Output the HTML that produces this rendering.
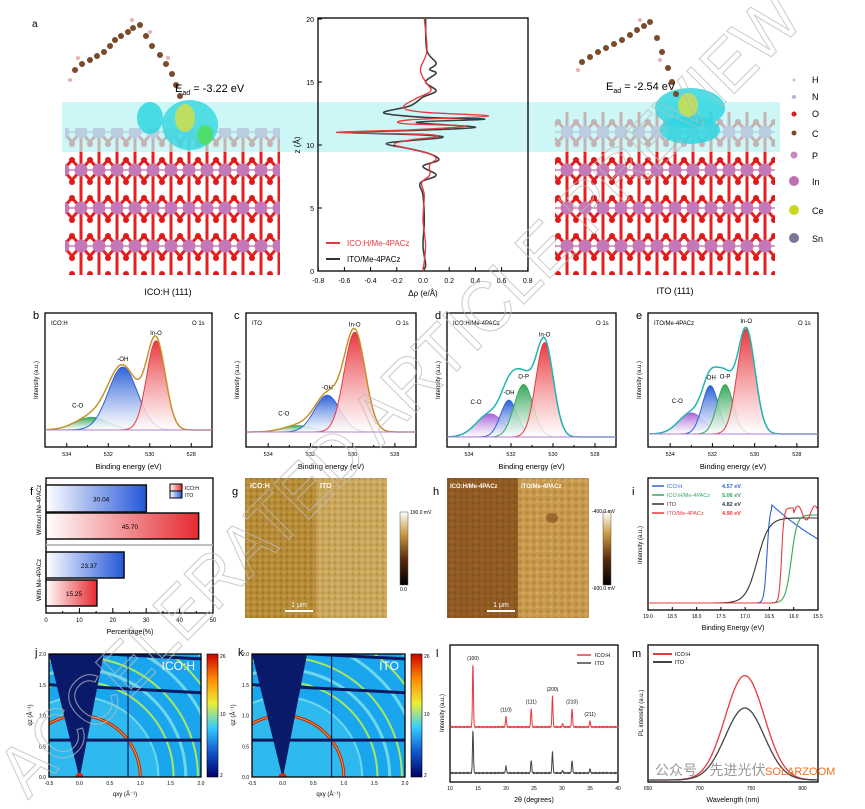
<!DOCTYPE html>
<html><head><meta charset="utf-8"><style>
html,body{margin:0;padding:0;background:#fff;width:865px;height:809px;overflow:hidden}
svg{display:block;font-family:"Liberation Sans",sans-serif;overflow:hidden}
</style></head><body>
<svg id="s" width="865" height="809" viewBox="0 0 865 809" xmlns="http://www.w3.org/2000/svg">
<defs>
<linearGradient id="gR" x1="0" y1="0" x2="0" y2="1"><stop offset="0" stop-color="#e8393f"/><stop offset="1" stop-color="#fff" stop-opacity=".8"/></linearGradient>
<linearGradient id="gB" x1="0" y1="0" x2="0" y2="1"><stop offset="0" stop-color="#2d62d8"/><stop offset="1" stop-color="#fff" stop-opacity=".8"/></linearGradient>
<linearGradient id="gG" x1="0" y1="0" x2="0" y2="1"><stop offset="0" stop-color="#36a85a"/><stop offset="1" stop-color="#fff" stop-opacity=".8"/></linearGradient>
<linearGradient id="gP" x1="0" y1="0" x2="0" y2="1"><stop offset="0" stop-color="#a865d8"/><stop offset="1" stop-color="#fff" stop-opacity=".8"/></linearGradient>
<linearGradient id="hB" x1="0" y1="0" x2="1" y2="0"><stop offset="0" stop-color="#fff"/><stop offset="1" stop-color="#2456d8"/></linearGradient>
<linearGradient id="hR" x1="0" y1="0" x2="1" y2="0"><stop offset="0" stop-color="#fff"/><stop offset="1" stop-color="#e52a30"/></linearGradient>
<linearGradient id="cbA" x1="0" y1="0" x2="0" y2="1"><stop offset="0" stop-color="#fff"/><stop offset=".3" stop-color="#c89a40"/><stop offset=".65" stop-color="#5a2a0a"/><stop offset="1" stop-color="#000"/></linearGradient>
<linearGradient id="cbJ" x1="0" y1="0" x2="0" y2="1"><stop offset="0" stop-color="#c00"/><stop offset=".2" stop-color="#f80"/><stop offset=".4" stop-color="#ee3"/><stop offset=".6" stop-color="#3cf"/><stop offset=".8" stop-color="#15c"/><stop offset="1" stop-color="#006"/></linearGradient>
<pattern id="afmG" width="6" height="6" patternUnits="userSpaceOnUse"><rect width="6" height="6" fill="#b58a35"/><circle cx="2" cy="2" r="1.5" fill="#c49a48"/><circle cx="5" cy="4.5" r="1.2" fill="#9e7428"/></pattern>
<pattern id="afmG2" width="6" height="6" patternUnits="userSpaceOnUse"><rect width="6" height="6" fill="#c9a55a"/><circle cx="2" cy="2" r="1.5" fill="#d8b56e"/><circle cx="5" cy="4.5" r="1.2" fill="#b89245"/></pattern>
<pattern id="afmH" width="6" height="6" patternUnits="userSpaceOnUse"><rect width="6" height="6" fill="#8f5a22"/><circle cx="2" cy="2" r="1.4" fill="#9a652a"/><circle cx="5" cy="4.5" r="1.2" fill="#84501c"/></pattern>
<pattern id="afmH2" width="7" height="7" patternUnits="userSpaceOnUse"><rect width="7" height="7" fill="#c79a50"/><circle cx="2" cy="2" r="1.8" fill="#b8883c"/><circle cx="5" cy="5" r="1.3" fill="#d4ab62"/></pattern>
<pattern id="slab" width="36" height="38" patternUnits="userSpaceOnUse">
<rect width="36" height="38" fill="#fff"/>
<path d="M0 8L18 28M18 8L36 28M0 28L18 8M18 28L36 8M9 0V38M27 0V38" stroke="#e52020" stroke-width="3"/>
<path d="M0 18H36" stroke="#d9a0c8" stroke-width="2"/>
<circle cx="9" cy="18" r="6.5" fill="#c478b8"/><circle cx="27" cy="18" r="6.5" fill="#c478b8"/>
<circle cx="0" cy="8" r="3" fill="#e01818"/><circle cx="18" cy="8" r="3" fill="#e01818"/><circle cx="36" cy="8" r="3" fill="#e01818"/>
<circle cx="0" cy="30" r="3" fill="#e01818"/><circle cx="18" cy="30" r="3" fill="#e01818"/><circle cx="36" cy="30" r="3" fill="#e01818"/>
</pattern>
<clipPath id="cj"><rect x="49" y="654" width="152" height="123"/></clipPath>
<clipPath id="ck"><rect x="252" y="654" width="153" height="123"/></clipPath>
</defs>

<text x="32" y="27" font-size="10">a</text>
<rect x="65" y="128" width="215" height="147" fill="url(#slab)"/>
<rect x="555" y="112" width="220" height="163" fill="url(#slab)"/>
<rect x="62" y="102" width="718" height="50" fill="#b8f2f2" opacity=".7"/>
<ellipse cx="150" cy="118" rx="13" ry="16" fill="#2fd6e0" opacity=".85"/>
<ellipse cx="190" cy="125" rx="28" ry="25" fill="#3ad8e0" opacity=".85"/>
<ellipse cx="185" cy="118" rx="10" ry="14" fill="#d8e040" opacity=".8"/>
<ellipse cx="205" cy="135" rx="8" ry="10" fill="#50e050" opacity=".8"/>
<ellipse cx="690" cy="108" rx="35" ry="20" fill="#2fd6e0" opacity=".85"/>
<ellipse cx="690" cy="130" rx="30" ry="14" fill="#2fd6e0" opacity=".85"/>
<ellipse cx="688" cy="105" rx="10" ry="12" fill="#d8e040" opacity=".8"/>
<g id="mol1" fill="#7a4a2a"></g>
<text x="175" y="92" font-size="11">E<tspan font-size="7" dy="3">ad</tspan><tspan dy="-3"> = -3.22 eV</tspan></text>
<text x="606" y="90" font-size="11">E<tspan font-size="7" dy="3">ad</tspan><tspan dy="-3"> = -2.54 eV</tspan></text>
<text x="168" y="295" font-size="9" text-anchor="middle">ICO:H (111)</text>
<text x="675" y="294" font-size="9" text-anchor="middle">ITO (111)</text>
<g font-size="9">
<circle cx="794" cy="80" r="1.5" fill="#e8b8b8"/><text x="812" y="83">H</text>
<circle cx="794" cy="97" r="2" fill="#a8b8e0"/><text x="812" y="100">N</text>
<circle cx="794" cy="114" r="2.5" fill="#e01818"/><text x="812" y="117">O</text>
<circle cx="794" cy="133" r="2.5" fill="#7a4a2a"/><text x="812" y="137">C</text>
<circle cx="794" cy="155" r="3.5" fill="#c48ac0"/><text x="812" y="159">P</text>
<circle cx="794" cy="181" r="5" fill="#c070b0"/><text x="812" y="185">In</text>
<circle cx="794" cy="210" r="5" fill="#c8d820"/><text x="812" y="214">Ce</text>
<circle cx="794" cy="238" r="5" fill="#7a7898"/><text x="812" y="242">Sn</text>
</g>
<g id="ga"></g>
<g id="xps"></g>
<g id="rest"></g>

<text x="0" y="0" font-size="72" fill="none" stroke="#bbb" stroke-width="1.1" opacity=".75" transform="translate(28,800) rotate(-45)" textLength="1100" lengthAdjust="spacingAndGlyphs">ACCELERATED ARTICLE PREVIEW</text>
<g font-size="14" fill="#999"><text x="655" y="775">公众号 · 先进光伏</text></g>
<text x="765" y="775" font-size="11" fill="#f07020">SOLARZOOM</text>
</svg>
<script>
const NS="http://www.w3.org/2000/svg";
function el(p,t,a,txt){const e=document.createElementNS(NS,t);for(const k in a)e.setAttribute(k,a[k]);if(txt!==undefined)e.textContent=txt;p.appendChild(e);return e;}
function sq(v){return v*v;}
function smooth(pts){let d='M'+pts[0][0].toFixed(1)+' '+pts[0][1].toFixed(1);for(let i=0;i<pts.length-1;i++){const p0=pts[i-1]||pts[i],p1=pts[i],p2=pts[i+1],p3=pts[i+2]||p2;const c1=[p1[0]+(p2[0]-p0[0])/6,p1[1]+(p2[1]-p0[1])/6],c2=[p2[0]-(p3[0]-p1[0])/6,p2[1]-(p3[1]-p1[1])/6];d+='C'+c1[0].toFixed(1)+' '+c1[1].toFixed(1)+' '+c2[0].toFixed(1)+' '+c2[1].toFixed(1)+' '+p2[0].toFixed(1)+' '+p2[1].toFixed(1);}return d;}
function poly(pts){return 'M'+pts.map(p=>p[0].toFixed(1)+' '+p[1].toFixed(1)).join('L');}
function axes(g,x0,y0,x1,y1){el(g,'rect',{x:x0,y:y0,width:x1-x0,height:y1-y0,fill:'none',stroke:'#000','stroke-width':1.3});}
const m=document.getElementById('mol1');
[[75,70],[82,64],[90,60],[97,56],[104,52],[110,46],[115,40],[121,36],[128,32],[133,28],[140,25],[146,36],[152,46],[160,55],[166,64],[172,74],[176,85],[180,96]].forEach(p=>el(m,'circle',{cx:p[0],cy:p[1],r:3}));
[[582,62],[590,57],[598,52],[606,48],[614,44],[622,40],[630,35],[637,30],[644,26],[650,22],[657,38],[662,52],[668,68],[672,82],[676,94]].forEach(p=>el(m,'circle',{cx:p[0],cy:p[1],r:3}));
[[70,80],[78,58],[132,20],[150,32],[168,58],[578,70],[640,20],[660,60]].forEach(p=>el(m,'circle',{cx:p[0],cy:p[1],r:2,fill:'#e8b0b0'}));
const ga=document.getElementById('ga');
axes(ga,318,18,528,271);
const ax=v=>423+v*131, az=z=>271-z*12.6;
for(let i=-4;i<=4;i++){const v=i*0.2;el(ga,'line',{x1:ax(v),y1:271,x2:ax(v),y2:267,stroke:'#000'});el(ga,'text',{x:ax(v),y:283,'font-size':7,'text-anchor':'middle'},v.toFixed(1));}
for(let z=0;z<=20;z+=5){el(ga,'line',{x1:318,y1:az(z),x2:322,y2:az(z),stroke:'#000'});el(ga,'text',{x:314,y:az(z)+3,'font-size':7,'text-anchor':'end'},String(z));}
el(ga,'text',{x:423,y:296,'font-size':8,'text-anchor':'middle'},'Δρ (e/Å)');
el(ga,'text',{x:0,y:0,'font-size':8,'text-anchor':'middle',transform:'translate(300,145) rotate(-90)'},'z (Å)');
const blk=[[0.02,20],[0.03,17.5],[0.1,16.5],[0.05,16],[0.1,15.7],[0.02,15],[0.1,14.3],[0.0,13.8],[-0.1,13.1],[-0.3,12.55],[0.0,12.2],[0.47,12.05],[-0.05,11.8],[0.4,11.4],[-0.1,11.15],[-0.6,11.0],[0.0,10.8],[0.15,10.6],[-0.1,10.35],[-0.28,10.1],[-0.1,9.7],[0.05,9.3],[0.12,8.8],[0.0,8.3],[0.1,7.6],[-0.02,7.0],[0.0,6],[0.01,4],[0.0,2],[0.02,0.5],[0,0]];
const red=[[0.01,20],[0.03,17.5],[-0.02,16],[0.02,15],[0.06,14.3],[-0.05,13.7],[-0.15,13.0],[0.0,12.6],[0.5,12.3],[-0.1,12.0],[-0.15,11.7],[0.33,11.5],[-0.1,11.2],[-0.66,11.0],[0.0,10.85],[0.1,10.65],[-0.1,10.4],[-0.22,10.05],[-0.1,9.7],[0.05,9.3],[0.1,8.9],[0.05,8.4],[0.05,7.6],[-0.01,7.0],[0.01,6],[0.0,4],[0.02,2],[0.0,0]];
el(ga,'path',{d:smooth(blk.map(p=>[ax(p[0]),az(p[1])])),fill:'none',stroke:'#3a3f3f','stroke-width':1.6});
el(ga,'path',{d:smooth(red.map(p=>[ax(p[0]),az(p[1])])),fill:'none',stroke:'#e8393f','stroke-width':1.3});
el(ga,'line',{x1:326,y1:243,x2:340,y2:243,stroke:'#e8393f','stroke-width':2});el(ga,'text',{x:347,y:246,'font-size':8,fill:'#e8393f'},'ICO:H/Me-4PACz');
el(ga,'line',{x1:326,y1:259,x2:340,y2:259,stroke:'#333','stroke-width':2});el(ga,'text',{x:347,y:262,'font-size':8},'ITO/Me-4PACz');
const X=document.getElementById('xps');
const gauss=(x,c,s)=>Math.exp(-sq(x-c)/(2*s*s));
const panels=[
 {L:'b',x0:45,x1:212,base:430,t:'ICO:H',env:'#c8922a',pk:[[532.8,.12,.8,'G','#36a85a','C-O'],[531.3,.6,.7,'B','#2d62d8','-OH'],[529.7,.85,.45,'R','#e8393f','In-O']]},
 {L:'c',x0:246,x1:416,base:432,t:'ITO',env:'#c8922a',pk:[[532.6,.06,.7,'G','#36a85a','C-O'],[531.2,.35,.6,'B','#2d62d8','-OH'],[529.9,.95,.5,'R','#e8393f','In-O']]},
 {L:'d',x0:447,x1:616,base:437,t:'ICO:H/Me-4PACz',env:'#1fb5b0',pk:[[533.0,.22,.65,'P','#a865d8','C-O'],[532.1,.35,.4,'B','#2d62d8','-OH'],[531.4,.5,.45,'G','#36a85a','O-P'],[530.4,.9,.42,'R','#e8393f','In-O']]},
 {L:'e',x0:648,x1:818,base:434,t:'ITO/Me-4PACz',env:'#1fb5b0',pk:[[533.0,.2,.6,'P','#a865d8','C-O'],[532.1,.46,.38,'B','#2d62d8','-OH'],[531.4,.47,.38,'G','#36a85a','O-P'],[530.4,1.0,.42,'R','#e8393f','In-O']]}];
panels.forEach(P=>{
 const y0=313,y1=447;axes(X,P.x0,y0,P.x1,y1);
 const sx=e=>P.x0+(535.05-e)*(P.x1-P.x0)/8.05, H=105;
 el(X,'text',{x:P.x0-12,y:y0+6,'font-size':11},P.L);
 el(X,'text',{x:P.x0+6,y:y0+12,'font-size':6},P.t);
 el(X,'text',{x:P.x1-20,y:y0+12,'font-size':6},'O 1s');
 for(let e=534;e>=527;e--){el(X,'line',{x1:sx(e),y1:y1,x2:sx(e),y2:y1-(e%2?2:4),stroke:'#000'});}
 [534,532,530,528].forEach(e=>el(X,'text',{x:sx(e),y:y1+9,'font-size':5.5,'text-anchor':'middle'},String(e)));
 el(X,'text',{x:(P.x0+P.x1)/2,y:y1+22,'font-size':7.5,'text-anchor':'middle'},'Binding energy (eV)');
 el(X,'text',{x:0,y:0,'font-size':6,'text-anchor':'middle',transform:'translate('+(P.x0-7)+','+((y0+y1)/2)+') rotate(-90)'},'Intensity (a.u.)');
 const env=[];
 for(let e=535;e>=527;e-=0.05){let s=0;P.pk.forEach(k=>s+=k[1]*gauss(e,k[0],k[2]));env.push([sx(e),P.base-s*H]);}
 P.pk.forEach(k=>{const pts=[];for(let e=535;e>=527;e-=0.05)pts.push([sx(e),P.base-k[1]*gauss(e,k[0],k[2])*H]);
  el(X,'path',{d:poly(pts)+'Z',fill:'url(#g'+k[3]+')',stroke:k[4],'stroke-width':1});
  const tx=sx(k[0]),ty=P.base-k[1]*H-6;el(X,'text',{x:k[5]=='C-O'?tx-14:tx,y:k[5]=='C-O'?ty-4:ty,'font-size':6,'text-anchor':'middle'},k[5]);});
 el(X,'path',{d:poly(env),fill:'none',stroke:P.env,'stroke-width':1.5});
 el(X,'line',{x1:P.x0,y1:P.base,x2:P.x1,y2:P.base,stroke:'#b080d0','stroke-width':1});
});
const R=document.getElementById('rest');
el(R,'text',{x:30,y:495,'font-size':11},'f');
axes(R,46,478,213,613);
const fx=v=>46+v*(167/50);
el(R,'line',{x1:46,y1:545,x2:213,y2:545,stroke:'#aaa','stroke-width':1.5});
[[485,512,30.04,'B'],[513,539,45.70,'R'],[552,578,23.37,'B'],[580,606,15.25,'R']].forEach(b=>{
 el(R,'rect',{x:46,y:b[0],width:fx(b[2])-46,height:b[1]-b[0],fill:'url(#h'+b[3]+')',stroke:'#111','stroke-width':1.5});
 el(R,'text',{x:46+(fx(b[2])-46)*0.55,y:(b[0]+b[1])/2+3,'font-size':6.5,'text-anchor':'middle'},b[2].toFixed(2));});
for(let v=0;v<=50;v+=5)el(R,'line',{x1:fx(v),y1:613,x2:fx(v),y2:v%10?611:608,stroke:'#000'});
for(let v=0;v<=50;v+=10)el(R,'text',{x:fx(v),y:622,'font-size':6,'text-anchor':'middle'},String(v));
el(R,'text',{x:130,y:634,'font-size':7,'text-anchor':'middle'},'Percentage(%)');
el(R,'text',{x:0,y:0,'font-size':6,'text-anchor':'middle',transform:'translate(41,510) rotate(-90)'},'Without Me-4PACz');
el(R,'text',{x:0,y:0,'font-size':6,'text-anchor':'middle',transform:'translate(41,580) rotate(-90)'},'With Me-4PACz');
el(R,'rect',{x:170,y:484,width:12,height:7,fill:'url(#hR)',stroke:'#000'});el(R,'rect',{x:170,y:491,width:12,height:7,fill:'url(#hB)',stroke:'#000'});
el(R,'text',{x:185,y:490,'font-size':5},'ICO:H');el(R,'text',{x:185,y:497,'font-size':5},'ITO');
el(R,'text',{x:232,y:495,'font-size':11},'g');
el(R,'rect',{x:245,y:478,width:71,height:140,fill:'url(#afmG)'});el(R,'rect',{x:316,y:478,width:71,height:140,fill:'url(#afmG2)'});
el(R,'text',{x:250,y:488,'font-size':7,fill:'#fff','font-weight':'bold'},'ICO:H');el(R,'text',{x:320,y:488,'font-size':7,fill:'#fff','font-weight':'bold'},'ITO');
el(R,'line',{x1:285,y1:611,x2:313,y2:611,stroke:'#fff','stroke-width':2});el(R,'text',{x:299,y:607,'font-size':7,fill:'#fff','text-anchor':'middle'},'1 μm');
el(R,'rect',{x:400,y:512,width:8,height:73,fill:'url(#cbA)',stroke:'#555','stroke-width':.5});
el(R,'text',{x:410,y:514,'font-size':5},'190.0 mV');el(R,'text',{x:400,y:591,'font-size':5},'0.0');
el(R,'text',{x:433,y:495,'font-size':11},'h');
el(R,'rect',{x:447,y:478,width:71,height:140,fill:'url(#afmH)'});el(R,'rect',{x:518,y:478,width:71,height:140,fill:'url(#afmH2)'});
el(R,'ellipse',{cx:552,cy:518,rx:6,ry:5,fill:'#7a4a18',opacity:.6});
el(R,'text',{x:450,y:488,'font-size':6,fill:'#fff','font-weight':'bold'},'ICO:H/Me-4PACz');el(R,'text',{x:521,y:488,'font-size':6,fill:'#fff','font-weight':'bold'},'ITO/Me-4PACz');
el(R,'line',{x1:487,y1:611,x2:515,y2:611,stroke:'#fff','stroke-width':2});el(R,'text',{x:501,y:607,'font-size':7,fill:'#fff','text-anchor':'middle'},'1 μm');
el(R,'rect',{x:603,y:512,width:8,height:73,fill:'url(#cbA)',stroke:'#555','stroke-width':.5});
el(R,'text',{x:592,y:513,'font-size':5},'-400.0 mV');el(R,'text',{x:592,y:590,'font-size':5},'-600.0 mV');
el(R,'text',{x:632,y:495,'font-size':11},'i');
axes(R,648,478,818,610);
const ix=e=>648+(19-e)*170/3.5;
for(let i=0;i<=7;i++){const e=19-i*0.5;el(R,'line',{x1:ix(e),y1:610,x2:ix(e),y2:607,stroke:'#000'});el(R,'text',{x:ix(e),y:618,'font-size':5,'text-anchor':'middle'},e.toFixed(1));}
el(R,'text',{x:733,y:630,'font-size':7,'text-anchor':'middle'},'Binding Energy (eV)');
el(R,'text',{x:0,y:0,'font-size':6,'text-anchor':'middle',transform:'translate(642,545) rotate(-90)'},'Intensity (a.u.)');
const sig=(e,c,w)=>1/(1+Math.exp((e-c)/w));
const curves=[['#2d62d8',e=>e>16.45?sig(e,16.55,0.03)*0.98:0.98*Math.exp(-(16.45-e)*0.45)],['#333',e=>0.85*sig(e,16.75,0.12)],['#36a85a',e=>0.88*sig(e,16.05,0.06)],['#e8393f',e=>e>16.0?0.95*sig(e,16.25,0.025):0.9+0.07*Math.sin((16-e)*18)]];
curves.forEach(c=>{const p=[];for(let e=19;e>=15.5;e-=0.01)p.push([ix(e),603-c[1](e)*100]);el(R,'path',{d:poly(p),fill:'none',stroke:c[0],'stroke-width':1.1});});
[['ICO:H','4.57 eV','#2d62d8'],['ICO:H/Me-4PACz','5.06 eV','#36a85a'],['ITO','4.82 eV','#333'],['ITO/Me-4PACz','4.90 eV','#e8393f']].forEach((l,i)=>{const y=486+i*9;el(R,'line',{x1:652,y1:y,x2:664,y2:y,stroke:l[2],'stroke-width':1.5});el(R,'text',{x:667,y:y+2,'font-size':5.5,fill:l[2]},l[0]);el(R,'text',{x:722,y:y+2,'font-size':5.5,fill:l[2],'font-weight':'bold'},l[1]);});
function giwaxs(x0,x1,clip,lab,L){
 const y0=654,y1=777, ux=(x1-x0)/2.5, uy=(y1-y0)/2.0, cx=x0+0.5*ux;
 el(R,'text',{x:x0-14,y:y0+2,'font-size':11},L);
 const g=el(R,'g',{'clip-path':'url(#'+clip+')'});
 el(g,'rect',{x:x0,y:y0,width:x1-x0,height:y1-y0,fill:'#1aa6ee'});
 el(g,'ellipse',{cx:cx,cy:y1,rx:ux*1.3,ry:uy*1.3,fill:'#3cc6f0',opacity:.6});
 [1.3,1.55,1.75,1.95,2.25,2.5,2.8].forEach((r,i)=>el(g,'ellipse',{cx:cx,cy:y1,rx:ux*r,ry:uy*r,fill:'none',stroke:i%2?'#a8e860':'#6fd8e8','stroke-width':(i==2||i==4)?3:2}));
 el(g,'ellipse',{cx:cx,cy:y1,rx:ux,ry:uy,fill:'none',stroke:'#c02010','stroke-width':3});
 el(g,'ellipse',{cx:cx,cy:y1,rx:ux,ry:uy,fill:'none',stroke:'#f0a020','stroke-width':1});
 [0.6,1.5,2.05].forEach(q=>el(g,'line',{x1:x0,y1:y1-q*uy,x2:x1,y2:y1-q*uy+(q>1?8:0),stroke:'#0a1a60','stroke-width':3}));
 el(g,'line',{x1:cx+0.8*ux,y1:y0,x2:cx+0.8*ux,y2:y1,stroke:'#0a1a60','stroke-width':1.2});
 el(g,'path',{d:'M'+x0+' '+y0+'L'+(cx+0.4*ux)+' '+y0+'L'+(cx+1)+' '+(y1-3)+'L'+(cx-1)+' '+(y1-3)+'Z',fill:'#0a1a6a'});
 el(g,'circle',{cx:cx,cy:y1,r:4,fill:'#e02010'});
 axes(R,x0,y0,x1,y1);
 for(let i=0;i<=5;i++){const q=-0.5+i*0.5;el(R,'text',{x:x0+(q+0.5)*ux,y:y1+8,'font-size':5,'text-anchor':'middle'},q.toFixed(1));}
 for(let i=0;i<=4;i++){const q=i*0.5;el(R,'text',{x:x0-3,y:y1-q*uy+2,'font-size':5,'text-anchor':'end'},q.toFixed(1));}
 el(R,'text',{x:(x0+x1)/2,y:y1+19,'font-size':6,'text-anchor':'middle'},'qxy (Å⁻¹)');
 el(R,'text',{x:0,y:0,'font-size':6,'text-anchor':'middle',transform:'translate('+(x0-17)+',715) rotate(-90)'},'qz (Å⁻¹)');
 el(R,'text',{x:x1-6,y:y0+16,'font-size':12,fill:'#fff','text-anchor':'end'},lab);
 const cb=x1+6;el(R,'rect',{x:cb,y:y0,width:11,height:y1-y0,fill:'url(#cbJ)',stroke:'#000','stroke-width':.6});
 el(R,'text',{x:cb+13,y:y0+4,'font-size':5},'26');el(R,'text',{x:cb+13,y:716,'font-size':5},'10');el(R,'text',{x:cb+13,y:y1,'font-size':5},'2');
}
giwaxs(49,201,'cj','ICO:H','j');giwaxs(252,405,'ck','ITO','k');
el(R,'text',{x:436,y:657,'font-size':11},'l');
axes(R,450,645,618,782);
const lx=t=>450+(t-10)*168/30;
const xpk=[[14.1,1,'(100)'],[20,.17,'(110)'],[24.5,.3,'(111)'],[28.3,.5,'(200)'],[30.1,.06,''],[31.8,.3,'(210)'],[35,.1,'(211)']];
[[727,'#e8393f',62],[773,'#444',42]].forEach(c=>{const p=[];for(let t=10;t<=40;t+=0.04){let s=0;xpk.forEach(k=>s+=k[1]*Math.exp(-sq(t-k[0])/(2*0.09*0.09)));p.push([lx(t),c[0]-s*c[2]+Math.sin(t*37)*0.4]);}
 el(R,'path',{d:poly(p),fill:'none',stroke:c[1],'stroke-width':1});});
xpk.forEach(k=>{if(k[2])el(R,'text',{x:lx(k[0]),y:727-k[1]*62-5,'font-size':5,'text-anchor':'middle'},k[2]);});
for(let t=10;t<=40;t+=5)el(R,'text',{x:lx(t),y:790,'font-size':5,'text-anchor':'middle'},String(t));
el(R,'text',{x:534,y:802,'font-size':7,'text-anchor':'middle'},'2θ (degrees)');
el(R,'text',{x:0,y:0,'font-size':6,'text-anchor':'middle',transform:'translate(444,713) rotate(-90)'},'Intensity (a.u.)');
el(R,'line',{x1:577,y1:655,x2:591,y2:655,stroke:'#e8393f','stroke-width':1.5});el(R,'text',{x:595,y:657,'font-size':5.5},'ICO:H');
el(R,'line',{x1:577,y1:663,x2:591,y2:663,stroke:'#444','stroke-width':1.5});el(R,'text',{x:595,y:665,'font-size':5.5},'ITO');
el(R,'text',{x:632,y:657,'font-size':11},'m');
axes(R,648,645,818,782);
const mx=w=>648+(w-650)*170/165;
[[.87,'#e8393f'],[.6,'#444']].forEach(c=>{const p=[];for(let w=650;w<=815;w+=0.5)p.push([mx(w),780-c[0]*120*Math.exp(-sq(w-744)/(2*19*19))]);el(R,'path',{d:poly(p),fill:'none',stroke:c[1],'stroke-width':1.3});});
[650,700,750,800].forEach(w=>el(R,'text',{x:mx(w),y:790,'font-size':5,'text-anchor':'middle'},String(w)));
el(R,'text',{x:733,y:802,'font-size':7,'text-anchor':'middle'},'Wavelength (nm)');
el(R,'text',{x:0,y:0,'font-size':6,'text-anchor':'middle',transform:'translate(643,713) rotate(-90)'},'PL intensity (a.u.)');
el(R,'line',{x1:653,y1:654,x2:672,y2:654,stroke:'#e8393f','stroke-width':2});el(R,'text',{x:675,y:656,'font-size':5.5},'ICO:H');
el(R,'line',{x1:653,y1:662,x2:672,y2:662,stroke:'#444','stroke-width':2});el(R,'text',{x:675,y:664,'font-size':5.5},'ITO');
</script>
</body></html>
